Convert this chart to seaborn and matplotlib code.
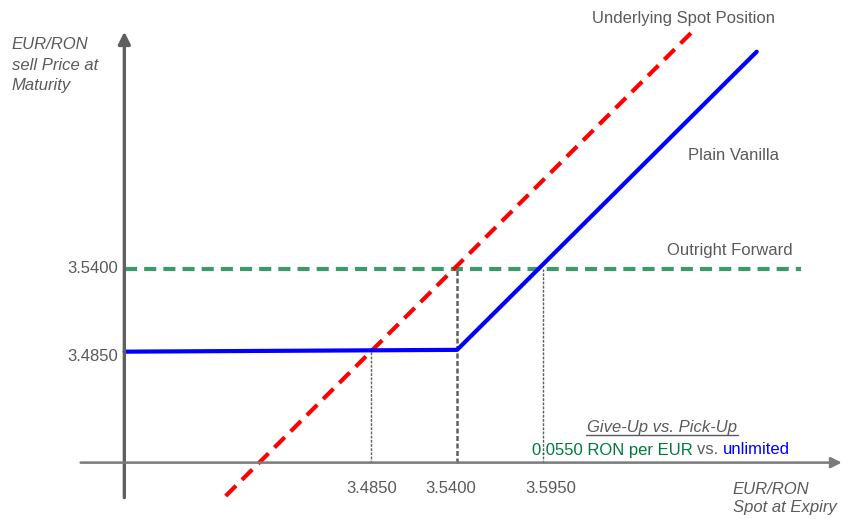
import matplotlib
matplotlib.use("Agg")
import matplotlib.pyplot as plt
import seaborn as sns
from matplotlib.lines import Line2D

sns.set_style("white")
plt.rcParams["font.family"] = ["Liberation Sans", "DejaVu Sans"]

W, H, DPI = 843, 519, 100

# payoff lines (x = spot at expiry, y = sell price)
spot_x = [3.3922, 3.6898]
spot_y = [3.3890, 3.6974]
vanilla_x = [3.3277, 3.5400, 3.7313]
vanilla_y = [3.4850, 3.4862, 3.6845]
forward_x = [3.3277, 3.7594]
forward_y = [3.5400, 3.5400]

# guide lines dropped to the x axis
guide_x = [3.4850, 3.5400, 3.5950]
guide_top = [3.4850, 3.5400, 3.5400]
guide_lw = [1.0, 1.8, 1.0]

x_ticks = [3.4850, 3.5400, 3.5950]
x_tick_shift = [1, -6, 7]          # pixels
y_ticks = [3.5400, 3.4850]
y_tick_shift = [0, -5]             # pixels

x_axis_y = 3.4112
y_axis_x = 3.3275

GREY = "#5a5a5a"
RED = "#ff0000"
BLUE = "#0000ff"
GREEN_LINE = "#3a9a68"
GREEN_TEXT = "#007a3a"

fig = plt.figure(figsize=(W / DPI, H / DPI), dpi=DPI)
ax = fig.add_axes([0, 0, 1, 1])

sns.lineplot(x=forward_x, y=forward_y, color=GREEN_LINE, linewidth=3,
             linestyle=(0, (2.9, 1.7)), ax=ax)
sns.lineplot(x=spot_x, y=spot_y, color=RED, linewidth=3,
             linestyle=(0, (3.5, 2.0)), ax=ax, sort=False)
sns.lineplot(x=vanilla_x, y=vanilla_y, color=BLUE, linewidth=3,
             solid_capstyle="round", ax=ax, sort=False)

for gx, gt, lw in zip(guide_x, guide_top, guide_lw):
    ax.vlines(gx, x_axis_y, gt, colors="#606060", linewidth=lw,
              linestyles=(0, (2, 1)), zorder=1)

# axes drawn as arrows
ax.annotate("", xy=(y_axis_x, 3.6978), xytext=(y_axis_x, 3.3879),
            arrowprops=dict(arrowstyle="-|>", color="#5f5f5f", lw=2.4,
                            mutation_scale=18, shrinkA=0, shrinkB=0))
ax.annotate("", xy=(3.7856, x_axis_y), xytext=(3.2996, x_axis_y),
            arrowprops=dict(arrowstyle="-|>", color="#7a7a7a", lw=1.8,
                            mutation_scale=16, shrinkA=0, shrinkB=0))

ax.set_xlim(3.2481, 3.7864)
ax.set_ylim(3.3737, 3.7189)
ax.axis("off")

fs = 12
for v, dx in zip(x_ticks, x_tick_shift):
    ax.annotate(f"{v:.4f}", xy=(v, x_axis_y), xytext=(dx, -26),
                textcoords="offset pixels", ha="center", va="center",
                fontsize=fs, color=GREY)
for v, dy in zip(y_ticks, y_tick_shift):
    ax.annotate(f"{v:.4f}", xy=(y_axis_x, v), xytext=(-6, dy),
                textcoords="offset pixels", ha="right", va="center",
                fontsize=fs, color=GREY)

def fx(px):
    return px / W

def fy(py):
    return 1 - py / H

fig.text(fx(683.5), fy(18.3), "Underlying Spot Position", ha="center",
         va="center", fontsize=fs, color=GREY)
fig.text(fx(733), fy(155.7), "Plain Vanilla", ha="center", va="center",
         fontsize=fs, color=GREY)
fig.text(fx(730), fy(250.7), "Outright Forward", ha="center", va="center",
         fontsize=fs, color=GREY)
fig.text(fx(11.7), fy(65), "EUR/RON\nsell Price at\nMaturity", ha="left",
         va="center", fontsize=fs, color=GREY, style="italic", linespacing=1.45)
fig.text(fx(836.7), fy(498.5), "EUR/RON\nSpot at Expiry", ha="right",
         va="center", fontsize=fs, color=GREY, style="italic",
         multialignment="left", linespacing=1.3)

fig.text(fx(662), fy(427.7), "Give-Up vs. Pick-Up", ha="center", va="center",
         fontsize=fs, color=GREY, style="italic")
fig.add_artist(Line2D([fx(586), fx(738)], [fy(434.5), fy(434.5)],
                      color=GREY, lw=1, transform=fig.transFigure))

t1 = fig.text(fx(531.7), fy(450), "0.0550 RON per EUR ", ha="left",
              va="center", fontsize=fs, color=GREEN_TEXT)
t2 = ax.annotate("vs. ", xycoords=t1, xy=(1, 0), va="bottom",
                 fontsize=fs, color=GREY)
ax.annotate("unlimited", xycoords=t2, xy=(1, 0), va="bottom",
            fontsize=fs, color=BLUE)

fig.savefig("out.png", dpi=DPI)
